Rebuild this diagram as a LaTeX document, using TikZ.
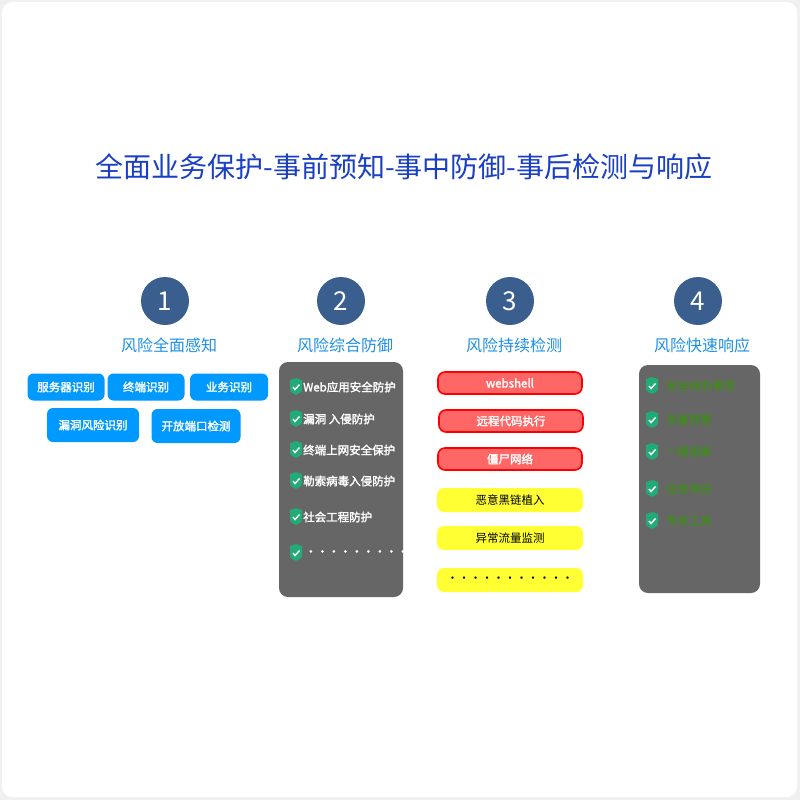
\documentclass[tikz,border=0pt]{standalone}
\usepackage{fontspec}
\setmainfont[AutoFakeBold=2]{Noto Sans CJK SC}
\usetikzlibrary{positioning}
\definecolor{titleblue}{HTML}{1A3FC4}
\definecolor{headblue}{HTML}{1E90E6}
\definecolor{numblue}{HTML}{3A5F8F}
\definecolor{tagblue}{HTML}{0099FF}
\definecolor{panelgray}{HTML}{666666}
\definecolor{shieldgreen}{HTML}{22AA77}
\definecolor{itemgreen}{HTML}{339900}
\definecolor{riskred}{HTML}{FF6666}
\definecolor{warnyellow}{HTML}{FFFF33}
\newcommand{\shield}[1]{%
  \begin{scope}[shift={#1}]
    \fill[shieldgreen] (-6,-7) -- (0,-9) -- (6,-7) -- (6,0) .. controls (6,5) .. (0,8) .. controls (-6,5) .. (-6,0) -- cycle;
    \draw[white,line width=1.4pt] (-3,0) -- (-1,2.5) -- (3.5,-2.5);
  \end{scope}}
\begin{document}
\begin{tikzpicture}[x=1pt,y=-1pt,
  num/.style={circle,fill=numblue,minimum size=48pt,inner sep=0pt,text=white,font=\fontsize{26}{26}\selectfont},
  head/.style={text=headblue,font=\fontsize{16}{16}\selectfont},
  tag/.style={rounded corners=6pt,fill=tagblue,text=white,font=\bfseries\fontsize{11.5}{12}\selectfont,inner sep=0pt},
  panel/.style={rounded corners=9pt,fill=panelgray},
  risk/.style={rounded corners=7pt,fill=riskred,draw=red,line width=1.6pt,text=white,font=\bfseries\fontsize{11.5}{12}\selectfont,minimum width=144pt,minimum height=22pt,inner sep=0pt},
  warn/.style={rounded corners=7pt,fill=warnyellow,text=black,font=\fontsize{11.5}{12}\selectfont,minimum width=146pt,minimum height=24pt,inner sep=0pt},
  item/.style={anchor=west,text=white,font=\bfseries\fontsize{11.5}{12}\selectfont,inner sep=0pt},
  resp/.style={anchor=west,text=itemgreen,font=\fontsize{11.5}{12}\selectfont,inner sep=0pt}]
  \useasboundingbox (0,0) rectangle (800,800);
  \fill[gray!12] (0,0) rectangle (800,800);
  \fill[white,rounded corners=10pt] (2,2) rectangle (797,797);
  \node[text=titleblue,font=\fontsize{28}{28}\selectfont] (title) at (404,167) {全面业务保护-事前预知-事中防御-事后检测与响应};
  % columns
  \foreach \n/\x/\t in {1/165/风险全面感知,2/341/风险综合防御,3/510/风险持续检测,4/698/风险快速响应}{
    \node[num] (n\n) at (\x,301) {\n};
    \node[head] (h\n) at (\x+4,345) {\t};
  }
  % column 1
  \node[tag,minimum width=77pt,minimum height=27pt] (t1) at (66,387) {服务器识别};
  \node[tag,minimum width=77pt,minimum height=27pt] (t2) at (146,387) {终端识别};
  \node[tag,minimum width=78pt,minimum height=27pt] (t3) at (229,387) {业务识别};
  \node[tag,minimum width=92pt,minimum height=34pt] (t4) at (93,425) {漏洞风险识别};
  \node[tag,minimum width=89pt,minimum height=34pt] (t5) at (196,426) {开放端口检测};
  % column 2
  \fill[panel] (279,362) rectangle (403,597);
  \foreach \y/\t in {387/Web应用安全防护,419/漏洞 入侵防护,450/终端上网安全保护,481/勒索病毒入侵防护,517/社会工程防护,553/{\,•••••••••••}}{
    \shield{(296,\y)}
    \node[item] at (303,\y) {\t};
  }
  % column 3
  \node[risk] (r1) at (510,383) {webshell};
  \node[risk] (r2) at (511,421) {远程代码执行};
  \node[risk] (r3) at (510,459) {僵尸网络};
  \node[warn] (w1) at (510,500) {恶意黑链植入};
  \node[warn] (w2) at (510,538) {异常流量监测};
  \node[warn] (w3) at (510,580) {•••••••••••};
  % column 4
  \fill[panel] (639,365) rectangle (760,593);
  \foreach \y/\t in {386/安全待办事项,420/多重预警,452/一键阻断,489/应急响应,521/专杀工具}{
    \shield{(652,\y)}
    \node[resp] at (666,\y) {\t};
  }
\end{tikzpicture}
\end{document}
